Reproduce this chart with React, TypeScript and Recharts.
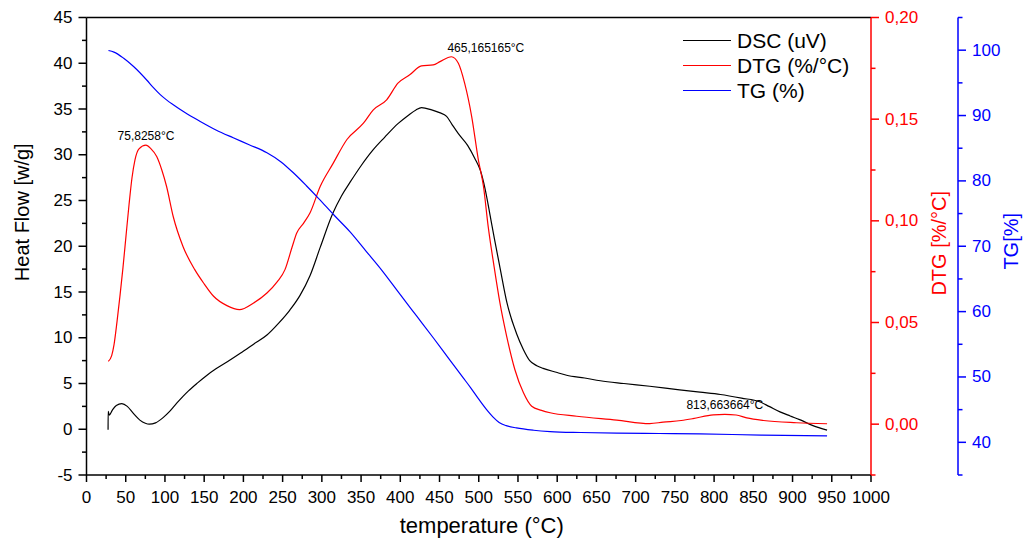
import {
  Legend,
  Line,
  LineChart,
  ReferenceDot,
  ReferenceLine,
  XAxis,
  YAxis,
} from "recharts";

const FONT = '"Liberation Sans", Arial, Helvetica, sans-serif';

// DSC heat flow [w/g] vs temperature
const dscTemp = [
  27.5, 27.6, 29, 33, 38, 45, 52, 60, 68, 75, 80, 88, 98, 106, 115, 123, 130,
  142, 152, 165, 180, 196, 213, 230, 245, 259, 272, 285, 298, 314, 325, 336,
  350, 365, 380, 397, 410, 420, 427, 440, 450, 459, 466, 474, 486, 495, 502,
  508, 514, 520, 527, 536, 548, 557, 565, 574, 582, 600, 612, 635, 655, 685,
  718, 756, 782, 808, 835, 858, 870, 884, 897, 909, 926, 944,
];
const dscFlow = [
  -0.05, 1.95, 1.55, 2.1, 2.6, 2.8, 2.5, 1.7, 1.0, 0.65, 0.55, 0.7, 1.3, 1.95,
  2.85, 3.6, 4.2, 5.1, 5.8, 6.6, 7.4, 8.3, 9.3, 10.3, 11.6, 13.0, 14.6, 16.8,
  19.9, 23.6, 25.5, 27.0, 28.8, 30.5, 31.9, 33.4, 34.3, 34.9, 35.15, 34.9, 34.6,
  34.2, 33.3, 32.3, 31.0, 29.6, 28.3, 26.3, 23.6, 20.8, 17.7, 13.8, 10.5, 8.7,
  7.5, 6.95, 6.65, 6.2, 5.9, 5.6, 5.3, 5.0, 4.7, 4.3, 4.05, 3.8, 3.4, 3.0, 2.5,
  1.9, 1.45, 1.05, 0.4, -0.1,
];

// DTG [%/°C]
const dtgTemp = [
  27.8, 32.1, 35.1, 38.9, 42.7, 46.5, 50.4, 54.2, 58, 61.8, 66.9, 75.8, 82,
  89.5, 96, 102, 110.6, 123, 138, 150, 162, 179, 195, 213, 230, 243, 253, 262,
  268, 277, 285, 298, 314, 332, 353, 365.6, 382.6, 397, 412, 427, 442, 450.6,
  465.2, 474, 482, 491, 499.5, 506, 512, 519.5, 527, 535.6, 546, 557, 567.5,
  580, 591, 625, 676, 718, 735, 758, 773, 799, 813.7, 828, 841.6, 863, 905, 944,
];
const dtgRate = [
  0.0309, 0.0337, 0.0391, 0.0504, 0.0632, 0.077, 0.0927, 0.1079, 0.1212, 0.13,
  0.1354, 0.1372, 0.1355, 0.1316, 0.125, 0.117, 0.102, 0.0874, 0.076, 0.069,
  0.0629, 0.0583, 0.0563, 0.0596, 0.0645, 0.07, 0.076, 0.087, 0.094, 0.099,
  0.104, 0.117, 0.128, 0.14, 0.148, 0.1546, 0.1595, 0.1677, 0.1718, 0.1762,
  0.1767, 0.1783, 0.1807, 0.1775, 0.1677, 0.1513, 0.13, 0.117, 0.0973, 0.0776,
  0.0596, 0.0432, 0.0269, 0.0154, 0.0088, 0.0068, 0.0056, 0.0039, 0.002, 0.0003,
  0.001, 0.0018, 0.0027, 0.0046, 0.0048, 0.0045, 0.0031, 0.0018, 0.0007, 0.0002,
];

// TG [%]
const tgTemp = [
  28, 35, 47, 60, 77, 85, 94, 102, 110.6, 125, 145, 165, 187, 208, 230, 248,
  264, 280, 296, 316, 336, 356, 376, 400, 421, 442, 463, 480, 490, 500, 510,
  518, 526, 535, 548, 570, 591, 630, 676, 730, 782, 860, 944,
];
const tgMass = [
  99.95, 99.7, 98.8, 97.5, 95.4, 94.3, 93.2, 92.4, 91.65, 90.5, 89.1, 87.8,
  86.6, 85.5, 84.3, 82.9, 81.2, 79.3, 77.3, 74.7, 72.2, 69.3, 66.4, 62.6, 59.3,
  56.0, 52.6, 49.9, 48.3, 46.6, 45.0, 43.9, 43.05, 42.55, 42.2, 41.85, 41.65,
  41.5, 41.4, 41.35, 41.3, 41.1, 41.0,
];

// DTG peak annotations
const peakTemps = [75.8258, 465.165165, 813.663664];
const peakRates = [0.1372, 0.1807, 0.0048];
const peakLabels = ["75,8258°C", "465,165165°C", "813,663664°C"];
const peakAnchors = ["middle", "start", "middle"];

const range = (start: number, end: number, step: number) =>
  Array.from(
    { length: Math.round((end - start) / step) + 1 },
    (_, i) => +(start + i * step).toFixed(4)
  );

const xTicks = range(0, 1000, 25);
const dscTicks = range(-5, 45, 2.5);
const dtgTicks = range(-0.025, 0.2, 0.025);
const tgTicks = range(35, 105, 5);

const toRows = (temps: number[], values: number[]) =>
  temps.map((t, i) => ({ t, v: values[i] }));

const dscData = toRows(dscTemp, dscFlow);
const dtgData = toRows(dtgTemp, dtgRate);
const tgData = toRows(tgTemp, tgMass);

const makeTick =
  (
    side: "left" | "right" | "bottom",
    color: string,
    isMajor: (v: number) => boolean,
    format: (v: number) => string
  ) =>
  (props: any) => {
    const { x, y, payload } = props;
    const v = payload.value;
    const major = isMajor(v);
    if (side === "bottom") {
      return (
        <g>
          <line x1={x} x2={x} y1={y} y2={y + (major ? 7 : 4)} stroke={color} strokeWidth={1.5} />
          {major && (
            <text x={x} y={y + 22} textAnchor="middle" dominantBaseline="central" fill={color} fontSize={17} fontFamily={FONT}>
              {format(v)}
            </text>
          )}
        </g>
      );
    }
    const dir = side === "left" ? -1 : 1;
    return (
      <g>
        <line x1={x} x2={x + dir * (major ? 8 : 4.5)} y1={y} y2={y} stroke={color} strokeWidth={1.5} />
        {major && (
          <text
            x={x + dir * 14}
            y={y}
            textAnchor={side === "left" ? "end" : "start"}
            dominantBaseline="central"
            fill={color}
            fontSize={17}
            fontFamily={FONT}
          >
            {format(v)}
          </text>
        )}
      </g>
    );
  };

const AxisTitle = ({ viewBox, text, color, dx, dy, rotate, size }: any) => {
  const cx = rotate ? viewBox.x + dx : viewBox.x + viewBox.width / 2 + dx;
  const cy = rotate ? viewBox.y + viewBox.height / 2 + dy : viewBox.y + dy;
  return (
    <text
      x={cx}
      y={cy}
      transform={rotate ? `rotate(-90, ${cx}, ${cy})` : undefined}
      textAnchor="middle"
      dominantBaseline="central"
      fill={color}
      fontSize={size}
      fontFamily={FONT}
    >
      {text}
    </text>
  );
};

const PeakLabel = ({ viewBox, text, anchor }: any) => (
  <text
    x={viewBox.x + (anchor === "start" ? -4 : 0)}
    y={viewBox.y - 9}
    textAnchor={anchor}
    dominantBaseline="central"
    fill="#000"
    fontSize={12}
    fontFamily={FONT}
  >
    {text}
  </text>
);

const renderLegend = (props: any) => (
  <div style={{ fontFamily: FONT, fontSize: 21, color: "#000" }}>
    {props.payload.map((entry: any) => (
      <div key={entry.value} style={{ display: "flex", alignItems: "center", height: 25 }}>
        <span
          style={{
            display: "inline-block",
            width: 48,
            height: 0,
            borderTop: `1.5px solid ${entry.color}`,
            marginRight: 6,
          }}
        />
        <span style={{ lineHeight: "25px", whiteSpace: "nowrap" }}>{entry.value}</span>
      </div>
    ))}
  </div>
);

const fmtDtg = (v: number) => v.toFixed(2).replace(".", ",");

const App = () => {
  return (
    <div style={{ position: "absolute", left: 0, top: 0, background: "#fff" }}>
      <LineChart width={1024} height={540} margin={{ top: 17.5, right: 0, bottom: 0, left: 0 }}>
        <XAxis
          dataKey="t"
          type="number"
          domain={[0, 1000]}
          allowDataOverflow
          ticks={xTicks}
          interval={0}
          height={65}
          tickSize={0}
          tickMargin={0}
          tickLine={false}
          axisLine={{ stroke: "#000", strokeWidth: 1.5 }}
          tick={makeTick("bottom", "#000", (v) => v % 50 === 0, (v) => String(v))}
          label={<AxisTitle text="temperature (°C)" color="#000" dx={3} dy={50} size={22} />}
        />
        <YAxis
          yAxisId="dsc"
          orientation="left"
          type="number"
          domain={[-5, 45]}
          allowDataOverflow
          ticks={dscTicks}
          interval={0}
          width={86.5}
          tickSize={0}
          tickMargin={0}
          tickLine={false}
          axisLine={{ stroke: "#000", strokeWidth: 1.5 }}
          tick={makeTick("left", "#000", (v) => v % 5 === 0, (v) => String(v))}
          label={<AxisTitle text="Heat Flow [w/g]" color="#000" dx={22} dy={-34} rotate size={20} />}
        />
        <YAxis
          yAxisId="dtg"
          orientation="right"
          type="number"
          domain={[-0.025, 0.2]}
          allowDataOverflow
          ticks={dtgTicks}
          interval={0}
          width={87}
          tickSize={0}
          tickMargin={0}
          tickLine={false}
          axisLine={{ stroke: "#ff0000", strokeWidth: 1.5 }}
          tick={makeTick(
            "right",
            "#ff0000",
            (v) => v >= 0 && Math.abs(Math.round(v / 0.05) * 0.05 - v) < 1e-6,
            fmtDtg
          )}
          label={<AxisTitle text="DTG [%/°C]" color="#ff0000" dx={68} dy={-3} rotate size={20} />}
        />
        <YAxis
          yAxisId="tg"
          orientation="right"
          type="number"
          domain={[35, 105]}
          allowDataOverflow
          ticks={tgTicks}
          interval={0}
          width={66}
          tickSize={0}
          tickMargin={0}
          tickLine={false}
          axisLine={{ stroke: "#0000ff", strokeWidth: 1.5 }}
          tick={makeTick("right", "#0000ff", (v) => v % 10 === 0, (v) => String(v))}
          label={<AxisTitle text="TG[%]" color="#0000ff" dx={53} dy={-5} rotate size={20} />}
        />
        <ReferenceLine yAxisId="dsc" y={45} stroke="#000" strokeWidth={1.5} />
        <Line
          yAxisId="dsc"
          data={dscData}
          dataKey="v"
          name="DSC (uV)"
          type="monotone"
          stroke="#000000"
          strokeWidth={1.2}
          dot={false}
          activeDot={false}
          isAnimationActive={false}
        />
        <Line
          yAxisId="dtg"
          data={dtgData}
          dataKey="v"
          name="DTG (%/°C)"
          type="monotone"
          stroke="#ff0000"
          strokeWidth={1.2}
          dot={false}
          activeDot={false}
          isAnimationActive={false}
        />
        <Line
          yAxisId="tg"
          data={tgData}
          dataKey="v"
          name="TG (%)"
          type="monotone"
          stroke="#0000ff"
          strokeWidth={1.2}
          dot={false}
          activeDot={false}
          isAnimationActive={false}
        />
        {peakTemps.map((t, i) => (
          <ReferenceDot
            key={peakLabels[i]}
            yAxisId="dtg"
            x={t}
            y={peakRates[i]}
            r={0}
            fill="none"
            stroke="none"
            label={<PeakLabel text={peakLabels[i]} anchor={peakAnchors[i]} />}
          />
        ))}
        <Legend
          layout="vertical"
          align="center"
          verticalAlign="middle"
          content={renderLegend}
          wrapperStyle={{ left: 683, top: 28, width: 200, height: 80 }}
        />
      </LineChart>
    </div>
  );
};

export default App;
